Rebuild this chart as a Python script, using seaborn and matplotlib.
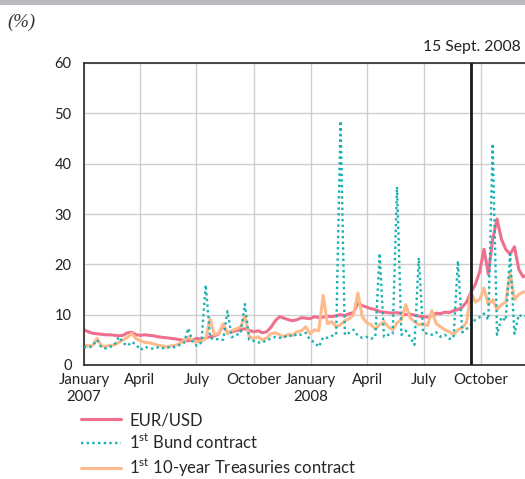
import matplotlib
matplotlib.use("Agg")
import matplotlib.pyplot as plt
import pandas as pd
import seaborn as sns
from matplotlib.patches import Rectangle

# weekly readings, starting 1 Jan 2007
week_start = "2007-01-01"

eur_usd = [
    7.0, 6.6, 6.3, 6.2, 6.1, 6.0, 6.0, 5.9, 5.8, 5.9,
    6.4, 6.5, 6.0, 5.9, 6.0, 5.9, 5.8, 5.6, 5.5, 5.4,
    5.3, 5.2, 5.0, 4.9, 4.8, 5.0, 5.3, 5.1, 5.4, 5.6,
    5.8, 6.2, 8.0, 6.4, 6.6, 6.8, 7.0, 7.2, 6.9, 6.6,
    6.8, 6.4, 6.6, 7.5, 8.8, 9.6, 9.3, 9.0, 8.8, 9.0,
    9.4, 9.3, 9.2, 9.6, 9.4, 9.5, 9.7, 9.6, 9.8, 10.0,
    9.8, 10.2, 10.4, 12.3, 11.8, 11.5, 11.2, 11.0, 10.6, 10.5,
    10.4, 10.3, 10.4, 10.2, 10.0, 10.1, 9.9, 9.7, 9.6, 9.5,
    9.8, 10.3, 10.2, 10.5, 10.4, 10.8, 11.0, 11.5, 12.5, 14.5,
    16.0, 18.5, 23.0, 18.0, 25.0, 29.0, 25.0, 23.0, 22.0, 23.5,
    19.0, 17.5, 18.0,
]

bund = [
    3.6, 3.4, 3.8, 5.0, 3.5, 3.3, 3.6, 4.0, 5.6, 4.4,
    3.8, 4.6, 4.0, 3.0, 3.6, 3.4, 3.2, 3.5, 3.3, 3.6,
    3.4, 3.6, 4.0, 4.4, 7.3, 4.5, 3.8, 4.5, 15.9, 5.5,
    5.0, 5.2, 5.0, 10.7, 5.5, 6.0, 6.2, 12.1, 5.0, 4.8,
    4.5, 4.4, 5.0, 5.2, 5.6, 5.4, 5.5, 6.0, 5.6, 6.2,
    6.0, 6.4, 5.0, 4.5, 3.6, 5.5, 5.4, 5.8, 6.0, 48.5,
    6.0, 6.4, 7.0, 5.8, 5.4, 5.6, 5.2, 5.6, 22.2, 5.6,
    6.0, 6.2, 35.4, 6.0, 6.8, 5.6, 4.0, 21.3, 6.5, 6.2,
    6.0, 6.5, 5.6, 6.0, 5.2, 5.4, 20.7, 6.5, 7.2, 8.0,
    9.0, 9.5, 10.2, 9.0, 44.0, 6.0, 9.5, 8.8, 22.0, 6.2,
    10.0, 9.5, 10.0,
]

treasuries = [
    4.0, 3.8, 3.9, 5.3, 3.8, 3.7, 3.9, 4.0, 4.5, 5.0,
    5.5, 6.3, 5.2, 4.8, 4.5, 4.4, 4.2, 3.9, 3.8, 3.6,
    3.8, 3.9, 4.3, 4.8, 5.6, 4.8, 4.6, 4.8, 5.2, 9.2,
    6.0, 6.3, 8.2, 6.2, 6.8, 7.2, 7.5, 9.8, 5.6, 5.3,
    5.6, 5.0, 5.4, 6.2, 6.4, 6.0, 5.6, 6.1, 5.9, 6.6,
    6.8, 7.6, 6.2, 7.0, 6.8, 13.8, 8.2, 8.6, 7.6, 8.0,
    8.8, 9.2, 10.0, 14.3, 9.6, 8.4, 8.0, 7.2, 8.0, 8.6,
    7.6, 7.0, 8.4, 9.0, 12.0, 9.4, 8.6, 8.0, 8.2, 7.8,
    10.8, 8.2, 7.6, 7.0, 6.6, 6.0, 7.0, 7.4, 8.5, 14.5,
    12.5, 13.0, 15.3, 12.0, 13.0, 11.0, 12.0, 12.5, 18.3, 13.0,
    14.0, 14.5, 14.5,
]

tick_dates = ["2007-01-01", "2007-04-01", "2007-07-01", "2007-10-01",
              "2008-01-01", "2008-04-01", "2008-07-01", "2008-10-01"]
tick_labels = ["January\n2007", "April", "July", "October",
               "January\n2008", "April", "July", "October"]
y_ticks = [0, 10, 20, 30, 40, 50, 60]
event_date = "2008-09-15"

labels = ["EUR/USD",
          "1$^{\\mathregular{st}}$ Bund contract",
          "1$^{\\mathregular{st}}$ 10-year Treasuries contract"]

sns.set_style("white")
plt.rcParams["font.family"] = ["Lato", "DejaVu Sans"]
plt.rcParams["mathtext.fontset"] = "custom"
plt.rcParams["mathtext.rm"] = "Lato"

dates = pd.date_range(week_start, periods=len(eur_usd), freq="7D")
df = pd.DataFrame({"date": dates, "eur": eur_usd, "bund": bund, "tsy": treasuries})

fig = plt.figure(figsize=(5.25, 4.79), dpi=100)
ax = fig.add_axes([84 / 525, 1 - 365 / 479, 1 - 84 / 525, (365 - 63) / 479])

sns.lineplot(data=df, x="date", y="eur", ax=ax, color="#ef6f8e", lw=2.2, label=labels[0])
sns.lineplot(data=df, x="date", y="bund", ax=ax, color="#16b1b1", lw=1.7,
             linestyle=(0, (1, 1.4)), label=labels[1])
sns.lineplot(data=df, x="date", y="tsy", ax=ax, color="#fdba8d", lw=2.2, label=labels[2])

# Bund dots sit on top of the other lines
ax.lines[1].set_zorder(4)

ax.axvline(pd.Timestamp(event_date), color="#1a1a1a", lw=2.0, zorder=5)

ax.set_xlim(pd.Timestamp("2007-01-01"), pd.Timestamp("2008-12-11"))
ax.set_ylim(0, 60)
ax.set_yticks(y_ticks)
ax.set_xticks([pd.Timestamp(d) for d in tick_dates])
ax.set_xticklabels(tick_labels, fontsize=10.8, color="#222222")
ax.tick_params(axis="y", labelsize=10.5, colors="#222222", length=0, pad=9)
ax.tick_params(axis="x", length=0, pad=6)
for lab in ax.get_xticklabels():
    lab.set_horizontalalignment("center")
    lab.set_multialignment("center")
ax.set_xlabel("")
ax.set_ylabel("")
ax.grid(True, color="#cfcfcf", lw=1.0)
ax.set_axisbelow(True)
for side in ["left", "bottom", "top"]:
    ax.spines[side].set_color("#2a2a2a")
    ax.spines[side].set_linewidth(1.2)
ax.spines["right"].set_visible(False)

ax.get_legend().remove()
handles, _ = ax.get_legend_handles_labels()
fig.legend(handles, labels, loc="upper left", bbox_to_anchor=(81 / 525, 1 - 412 / 479),
           frameon=False, fontsize=12, handlelength=2.4, handletextpad=0.5,
           labelspacing=0.28, borderpad=0, borderaxespad=0)

fig.add_artist(Rectangle((0, 1 - 5 / 479), 1, 5 / 479, transform=fig.transFigure,
                         color="#b9bbbe", lw=0))
fig.text(7 / 525, 1 - 22 / 479, "(%)", fontsize=13.5, style="italic",
         family="Liberation Serif", color="#333333", va="center", ha="left")
fig.text(521 / 525, 1 - 47 / 479, "15 Sept. 2008", fontsize=11.3, color="#222222",
         va="center", ha="right")

fig.savefig("out.png", dpi=100)
